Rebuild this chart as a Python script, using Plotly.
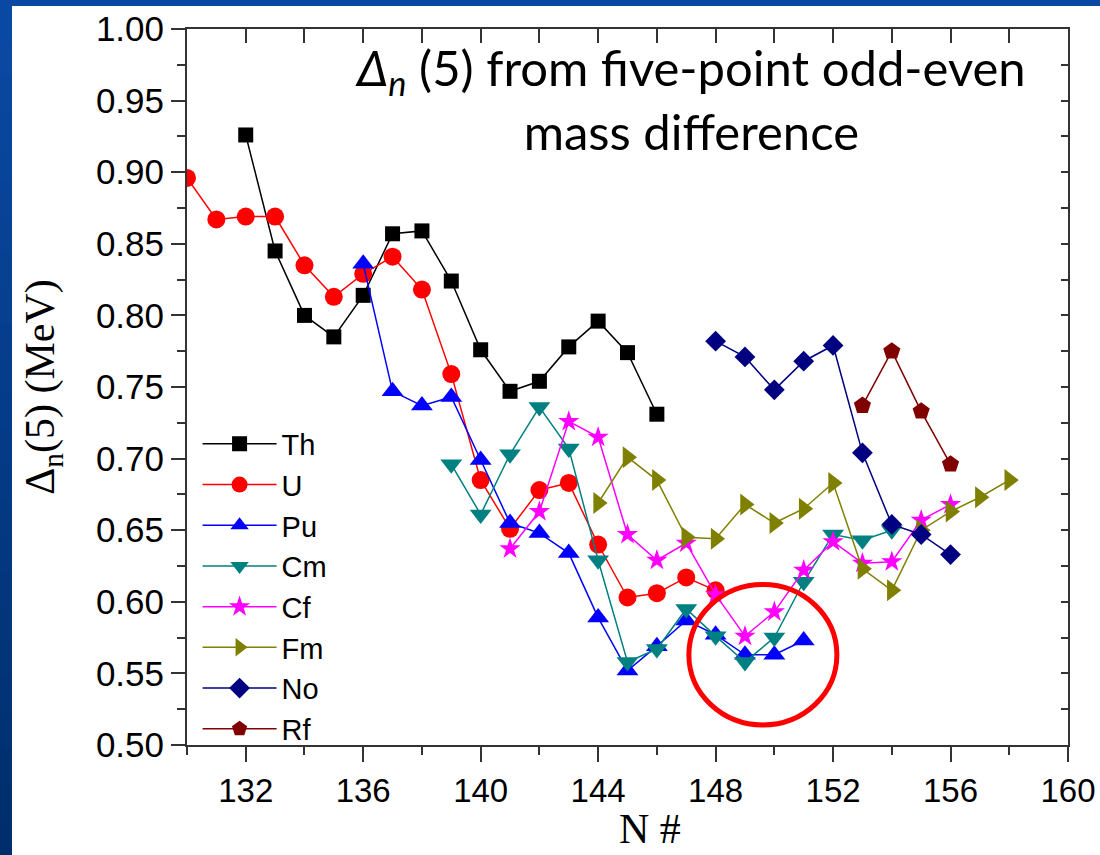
import plotly.graph_objects as go

# Five-point odd-even neutron gap Δn(5) (MeV) versus neutron number N
n_th = list(range(132, 147))
d_th = [0.926, 0.845, 0.800, 0.785, 0.814, 0.857, 0.859, 0.824, 0.776,
        0.747, 0.754, 0.778, 0.796, 0.774, 0.731]

n_u = list(range(130, 149))
d_u = [0.896, 0.867, 0.869, 0.869, 0.835, 0.813, 0.829, 0.841, 0.818, 0.759,
       0.685, 0.651, 0.678, 0.683, 0.640, 0.603, 0.606, 0.617, 0.608]

n_pu = list(range(136, 152))
d_pu = [0.836, 0.747, 0.737, 0.743, 0.699, 0.655, 0.648, 0.634, 0.589,
        0.552, 0.569, 0.587, 0.577, 0.563, 0.563, 0.573]

n_cm = list(range(139, 155))
d_cm = [0.696, 0.661, 0.703, 0.736, 0.707, 0.629, 0.558, 0.567, 0.595,
        0.576, 0.558, 0.575, 0.614, 0.647, 0.643, 0.650]

n_cf = list(range(141, 157))
d_cf = [0.637, 0.663, 0.726, 0.715, 0.647, 0.629, 0.641, 0.605, 0.576,
        0.593, 0.622, 0.642, 0.627, 0.628, 0.657, 0.668]

n_fm = list(range(144, 159))
d_fm = [0.669, 0.701, 0.685, 0.645, 0.644, 0.668, 0.655, 0.665, 0.683,
        0.623, 0.608, 0.650, 0.663, 0.673, 0.685]

n_no = list(range(148, 157))
d_no = [0.782, 0.771, 0.748, 0.768, 0.779, 0.704, 0.654, 0.647, 0.633]

n_rf = list(range(153, 157))
d_rf = [0.737, 0.775, 0.733, 0.696]

# highlighted region around N = 148-151 (x range in N, y range in MeV)
ring_n = [147.09, 152.13]
ring_d = [0.514, 0.612]

series = [
    ("Th", n_th, d_th, "#000000", "square", 15),
    ("U", n_u, d_u, "#FF0000", "circle", 18),
    ("Pu", n_pu, d_pu, "#0000FF", "triangle-up", 19),
    ("Cm", n_cm, d_cm, "#008080", "triangle-down", 19),
    ("Cf", n_cf, d_cf, "#FF00FF", "star", 16),
    ("Fm", n_fm, d_fm, "#808000", "triangle-right", 19),
    ("No", n_no, d_no, "#000080", "diamond", 16),
    ("Rf", n_rf, d_rf, "#800000", "pentagon", 18),
]

fig = go.Figure()
for name, xs, ys, color, symbol, size in series:
    fig.add_trace(go.Scatter(
        x=xs, y=ys, name=name, mode="lines+markers",
        line=dict(color=color, width=1.5),
        marker=dict(symbol=symbol, size=size, color=color,
                    line=dict(width=0)),
    ))

# companion axes for the inward ticks on the top and right frame
fig.add_trace(go.Scatter(x=[130], y=[0.5], xaxis="x2", yaxis="y2",
                         mode="markers", marker=dict(opacity=0),
                         showlegend=False, hoverinfo="skip"))

ax_color = "#333333"
sans = "Liberation Sans, Arial, sans-serif"
serif = "Liberation Serif, Times New Roman, serif"

fig.update_layout(
    width=1100, height=855,
    margin=dict(l=187, r=32, t=29, b=110),
    paper_bgcolor="#FFFFFF", plot_bgcolor="#FFFFFF",
    showlegend=True,
    legend=dict(
        x=0.012, y=0.456, xanchor="left", yanchor="top",
        bgcolor="rgba(0,0,0,0)", borderwidth=0,
        font=dict(family=sans, size=29, color="#000000"),
        itemwidth=74, tracegroupgap=0,
    ),
    xaxis=dict(
        range=[130, 160], tick0=132, dtick=4, automargin=False,
        showgrid=False, zeroline=False,
        showline=True, linecolor=ax_color, linewidth=2,
        ticks="outside", ticklen=15, tickwidth=2, tickcolor=ax_color,
        tickfont=dict(family=sans, size=33, color="#000000"),
        minor=dict(dtick=2, tick0=130, ticks="outside", ticklen=8,
                   tickwidth=2, tickcolor=ax_color, showgrid=False),
    ),
    yaxis=dict(
        range=[0.5, 1.0], tick0=0.5, dtick=0.05, tickformat=".2f",
        automargin=False,
        showgrid=False, zeroline=False,
        showline=True, linecolor=ax_color, linewidth=2,
        ticks="outside", ticklen=14, tickwidth=2, tickcolor=ax_color,
        tickfont=dict(family=sans, size=35, color="#000000"),
        minor=dict(dtick=0.025, ticks="outside", ticklen=8,
                   tickwidth=2, tickcolor=ax_color, showgrid=False),
        title=dict(text="Δ<sub>n</sub>(5) (MeV)",
                   font=dict(family=serif, size=42, color="#000000"),
                   standoff=28),
    ),
    xaxis2=dict(
        overlaying="x", side="top", range=[130, 160], tick0=130, dtick=2,
        automargin=False,
        showgrid=False, zeroline=False, showticklabels=False,
        showline=True, linecolor=ax_color, linewidth=2,
        ticks="inside", ticklen=14, tickwidth=2, tickcolor=ax_color,
    ),
    yaxis2=dict(
        overlaying="y", side="right", range=[0.5, 1.0], tick0=0.5, dtick=0.025,
        automargin=False,
        showgrid=False, zeroline=False, showticklabels=False,
        showline=True, linecolor=ax_color, linewidth=2,
        ticks="inside", ticklen=7, tickwidth=2, tickcolor=ax_color,
    ),
)

# x-axis caption
fig.add_annotation(
    xref="paper", yref="paper", x=0.5255, y=-0.118, xanchor="center", yanchor="middle",
    text="N #", showarrow=False,
    font=dict(family=serif, size=42, color="#000000"),
)

# heading inside the plot
fig.add_annotation(
    xref="paper", yref="paper", x=0.571, y=0.99, xanchor="center", yanchor="top",
    text="<i>Δ</i><sub><i>n</i></sub> (5) from five-point odd-even<br>mass difference",
    showarrow=False, align="center",
    font=dict(family="Lato, Noto Sans, sans-serif", size=49, color="#000000"),
)

# highlight ring
fig.add_shape(type="circle", xref="x", yref="y",
              x0=ring_n[0], x1=ring_n[1], y0=ring_d[0], y1=ring_d[1],
              line=dict(color="#FF0000", width=5), layer="above")

# slide frame: blue band on top and a graded blue strip on the left
PW, PH, ML, MB = 881.0, 716.0, 187.0, 110.0
def px_x(v):
    return (v - ML) / PW
def px_y(v):
    return (855.0 - MB - v) / PH

fig.add_shape(type="rect", xref="paper", yref="paper",
              x0=px_x(0), x1=px_x(1100), y0=px_y(6), y1=px_y(0),
              line=dict(width=0), fillcolor="#0A49A3", layer="above")
steps = 24
top_rgb = (10, 73, 163)
bot_rgb = (0, 46, 108)
for i in range(steps):
    t = i / (steps - 1)
    c = tuple(round(a + (b - a) * t) for a, b in zip(top_rgb, bot_rgb))
    y0 = 6 + (855 - 6) * i / steps - 1
    y1 = 6 + (855 - 6) * (i + 1) / steps + 1
    fig.add_shape(type="rect", xref="paper", yref="paper",
                  x0=px_x(0), x1=px_x(12), y0=px_y(y1), y1=px_y(y0),
                  line=dict(width=0), fillcolor="rgb(%d,%d,%d)" % c, layer="above")

fig.write_html("out.html")
